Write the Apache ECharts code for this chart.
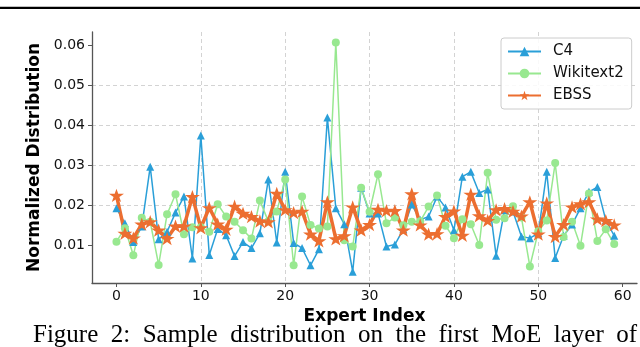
<!DOCTYPE html>
<html>
<head>
<meta charset="utf-8">
<script src="https://cdn.jsdelivr.net/npm/echarts@6/dist/echarts.min.js"></script>
<style>
  html, body { margin: 0; padding: 0; background: #fff; }
  #chart { width: 640px; height: 347px; }
</style>
</head>
<body>
<div id="chart"></div>
<script>
// values, expert 0..59
const c4 = [
  0.0193, 0.0155, 0.0108, 0.0147, 0.0297, 0.0115, 0.0134, 0.0182, 0.0222, 0.0067,
  0.0375, 0.0076, 0.0141, 0.0125, 0.0073, 0.0108, 0.0093, 0.0130, 0.0265, 0.0107,
  0.0284, 0.0106, 0.0093, 0.0050, 0.0090, 0.0420, 0.0193, 0.0153, 0.0034, 0.0244,
  0.0180, 0.0180, 0.0097, 0.0102, 0.0140, 0.0202, 0.0164, 0.0172, 0.0222, 0.0195,
  0.0138, 0.0272, 0.0284, 0.0231, 0.0240, 0.0074, 0.0188, 0.0185, 0.0122, 0.0118,
  0.0130, 0.0284, 0.0068, 0.0124, 0.0152, 0.0193, 0.0234, 0.0246, 0.0163, 0.0124
];
const wikitext2 = [
  0.0109, 0.0143, 0.0075, 0.0169, 0.0159, 0.0051, 0.0178, 0.0228, 0.0128, 0.0145,
  0.0145, 0.0134, 0.0203, 0.0172, 0.0159, 0.0138, 0.0117, 0.0212, 0.0160, 0.0185,
  0.0265, 0.0050, 0.0222, 0.0151, 0.0142, 0.0147, 0.0608, 0.0113, 0.0097, 0.0244,
  0.0184, 0.0278, 0.0155, 0.0170, 0.0150, 0.0159, 0.0160, 0.0197, 0.0225, 0.0149,
  0.0118, 0.0165, 0.0153, 0.0101, 0.0282, 0.0164, 0.0168, 0.0198, 0.0170, 0.0047,
  0.0135, 0.0162, 0.0306, 0.0121, 0.0159, 0.0099, 0.0230, 0.0111, 0.0140, 0.0103
];
const ebss = [
  0.0225, 0.0130, 0.0118, 0.0153, 0.0159, 0.0138, 0.0117, 0.0148, 0.0148, 0.0222,
  0.0144, 0.0194, 0.0153, 0.0140, 0.0198, 0.0180, 0.0172, 0.0161, 0.0159, 0.0230,
  0.0189, 0.0182, 0.0185, 0.0128, 0.0111, 0.0209, 0.0116, 0.0124, 0.0196, 0.0138,
  0.0152, 0.0190, 0.0187, 0.0187, 0.0138, 0.0229, 0.0151, 0.0128, 0.0129, 0.0172,
  0.0186, 0.0125, 0.0228, 0.0174, 0.0162, 0.0189, 0.0192, 0.0185, 0.0173, 0.0209,
  0.0128, 0.0206, 0.0122, 0.0152, 0.0196, 0.0204, 0.0209, 0.0166, 0.0162, 0.0151
];
const xTicks = [0, 10, 20, 30, 40, 50, 60];
const yTicks = [0.01, 0.02, 0.03, 0.04, 0.05, 0.06];

const FONT = 'DejaVu Sans';
const STAR = 'path://M100,0 L122.45,69.1 L195.1,69.1 L136.3,111.8 L158.8,180.9 L100,138.2 L41.2,180.9 L63.7,111.8 L4.9,69.1 L77.55,69.1 Z';

function pairs(arr) {
  return arr.map((v, i) => [i, v]);
}

const gridLine = { show: true, showMinLine: false, showMaxLine: false, lineStyle: { color: '#d3d3d3', type: [4, 3], width: 1 } };
const spine = { show: true, onZero: false, lineStyle: { color: '#555', width: 1.3 } };

let chart = echarts.init(document.getElementById('chart'), null, { renderer: 'canvas' });
let option = {
  animation: false,
  backgroundColor: '#fff',
  grid: { left: 92, right: 3, top: 32, bottom: 64, containLabel: false },
  legend: {
    orient: 'vertical',
    left: 501,
    top: 38,
    padding: [6, 8, 6, 6],
    itemWidth: 33,
    itemHeight: 12,
    itemGap: 7,
    borderColor: '#cccccc',
    borderWidth: 1,
    borderRadius: 3,
    backgroundColor: 'rgba(255,255,255,0.85)',
    textStyle: { fontFamily: FONT, fontSize: 15, color: '#111', lineHeight: 15, padding: [0, 0, 0, 7] },
    data: ['C4', 'Wikitext2', 'EBSS']
  },
  xAxis: {
    type: 'value',
    min: -2.9,
    max: 61.7,
    minInterval: 10,
    maxInterval: 10,
    name: 'Expert Index',
    nameLocation: 'middle',
    nameGap: 24,
    nameTextStyle: { fontFamily: FONT, fontSize: 17, fontWeight: 'bold', color: '#000' },
    axisLine: spine,
    axisTick: { show: true, length: 4, customValues: xTicks, lineStyle: { color: '#555' } },
    axisLabel: { customValues: xTicks, margin: 6, fontFamily: FONT, fontSize: 14, color: '#111' },
    splitLine: gridLine
  },
  yAxis: {
    type: 'value',
    min: 0.00056,
    max: 0.06344,
    minInterval: 0.01,
    maxInterval: 0.01,
    name: 'Normalized Distribution',
    nameLocation: 'middle',
    nameGap: 46,
    nameTextStyle: { fontFamily: FONT, fontSize: 17, fontWeight: 'bold', color: '#000' },
    axisLine: spine,
    axisTick: { show: true, length: 4, customValues: yTicks, lineStyle: { color: '#555' } },
    axisLabel: { customValues: yTicks, margin: 7, fontFamily: FONT, fontSize: 14, color: '#111',
      formatter: v => v.toFixed(2) },
    splitLine: gridLine
  },
  series: [
    {
      name: 'C4',
      type: 'line',
      data: pairs(c4),
      symbol: 'triangle',
      symbolSize: 8,
      lineStyle: { color: '#2a9fd8', width: 1.5 },
      itemStyle: { color: '#2a9fd8' }
    },
    {
      name: 'Wikitext2',
      type: 'line',
      data: pairs(wikitext2),
      symbol: 'circle',
      symbolSize: 8,
      lineStyle: { color: '#98e890', width: 1.5 },
      itemStyle: { color: '#98e890' }
    },
    {
      name: 'EBSS',
      type: 'line',
      data: pairs(ebss),
      symbol: STAR,
      symbolSize: [15, 14],
      symbolKeepAspect: true,
      lineStyle: { color: '#ec6e30', width: 3.5 },
      itemStyle: { color: '#ec6e30' }
    }
  ],
  graphic: [
    {
      type: 'rect',
      shape: { x: 0, y: 6.7, width: 640, height: 2.3 },
      style: { fill: '#000' },
      silent: true
    },
    {
      type: 'text',
      x: 33,
      y: 335,
      style: {
        text: 'Figure  2:  Sample  distribution  on  the  first  MoE  layer  of',
        fontFamily: 'Liberation Serif',
        fontSize: 25,
        fill: '#000',
        verticalAlign: 'middle'
      },
      silent: true
    }
  ]
};
chart.setOption(option);
</script>
</body>
</html>
